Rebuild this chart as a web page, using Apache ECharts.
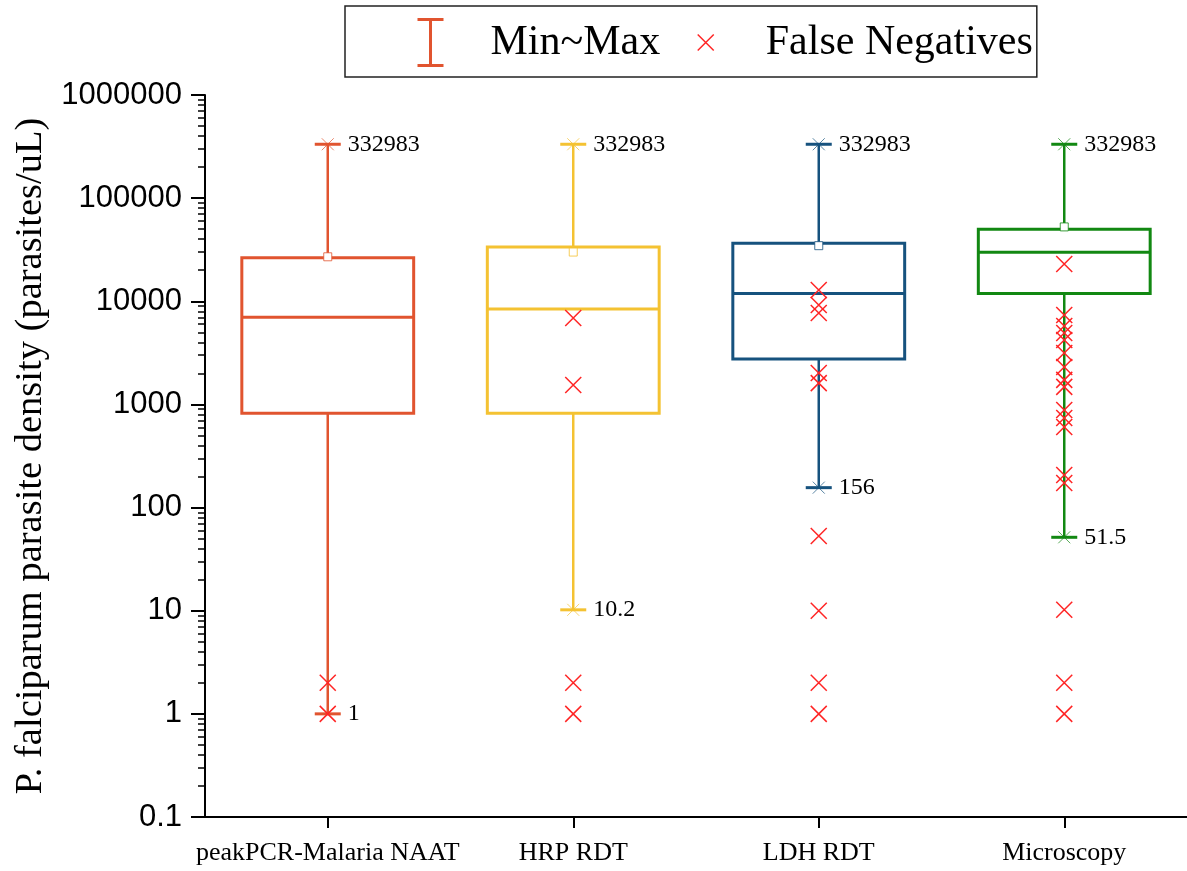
<!DOCTYPE html>
<html>
<head>
<meta charset="utf-8">
<title>P. falciparum parasite density by test</title>
<script src="https://cdn.jsdelivr.net/npm/echarts@6/dist/echarts.min.js"></script>
<style>
  html, body { margin: 0; padding: 0; background: #ffffff; }
  #chart { width: 1187px; height: 871px; }
</style>
</head>
<body>
<div id="chart"></div>
<script>
// Test methods along the x axis
const categories = ['peakPCR-Malaria NAAT', 'HRP RDT', 'LDH RDT', 'Microscopy'];

// Box statistics per test (parasites/uL)
const minValues    = [1, 10.2, 156, 51.5];
const q1Values     = [820, 820, 2750, 11900];
const medianValues = [7000, 8400, 11900, 29900];
const q3Values     = [26500, 33600, 36500, 49900];
const maxValues    = [332983, 332983, 332983, 332983];
const meanValues   = [27000, 30000, 34600, 52600];

// Parasite densities of the false-negative samples for each test
const falseNegPCR  = [1, 2];
const falseNegHRP  = [1, 2, 1540, 6890];
const falseNegLDH  = [1, 2, 10, 53, 1610, 2020, 7700, 9200, 12880];
const falseNegMicro = [1, 2, 10.2, 173, 207, 604, 739, 883, 1480, 1730, 2310,
                       3150, 4220, 4930, 5760, 7360, 23000];

// Y axis tick labels
const yTickLabels = ['0.1', '1', '10', '100', '1000', '10000', '100000', '1000000'];

const boxColors = ['#E1542F', '#F4C232', '#16527E', '#128812'];
const crossColor = '#FF2424';
const serif = '"Liberation Serif", "Times New Roman", serif';
const sans = '"Liberation Sans", Arial, sans-serif';

const boxData = categories.map((c, i) => [
  i, minValues[i], q1Values[i], medianValues[i], q3Values[i], maxValues[i], meanValues[i]
]);

const falseNegGroups = [falseNegPCR, falseNegHRP, falseNegLDH, falseNegMicro];
const falseNegData = [];
falseNegGroups.forEach((vals, i) => vals.forEach(v => falseNegData.push([i, v])));

function fade(hex, a) {
  const n = parseInt(hex.slice(1), 16);
  return 'rgba(' + (n >> 16) + ',' + ((n >> 8) & 255) + ',' + (n & 255) + ',' + a + ')';
}

function renderBox(params, api) {
  const i = api.value(0);
  const color = boxColors[i];
  const xc = api.coord([i, 1])[0];
  const bw = api.size([1, 1])[0] * 0.7;
  const yMin = api.coord([i, api.value(1)])[1];
  const yQ1 = api.coord([i, api.value(2)])[1];
  const yMed = api.coord([i, api.value(3)])[1];
  const yQ3 = api.coord([i, api.value(4)])[1];
  const yMax = api.coord([i, api.value(5)])[1];
  const yMean = api.coord([i, api.value(6)])[1];
  const capHalf = 13;
  const starHalf = 6;
  const line = (x1, y1, x2, y2, w, c) => ({
    type: 'line',
    shape: { x1, y1, x2, y2 },
    style: { stroke: c || color, lineWidth: w }
  });
  const children = [
    line(xc, yQ3, xc, yMax, 2.5),
    line(xc, yMin, xc, yQ1, 2.5),
    {
      type: 'rect',
      shape: { x: xc - bw / 2, y: yQ3, width: bw, height: yQ1 - yQ3 },
      style: { fill: 'none', stroke: color, lineWidth: 3 }
    },
    line(xc - bw / 2, yMed, xc + bw / 2, yMed, 3),
    line(xc - capHalf, yMax, xc + capHalf, yMax, 3),
    line(xc - capHalf, yMin, xc + capHalf, yMin, 3),
    line(xc - starHalf, yMax - starHalf, xc + starHalf, yMax + starHalf, 1, fade(color, 0.7)),
    line(xc - starHalf, yMax + starHalf, xc + starHalf, yMax - starHalf, 1, fade(color, 0.7)),
    line(xc - starHalf, yMin - starHalf, xc + starHalf, yMin + starHalf, 1, fade(color, 0.7)),
    line(xc - starHalf, yMin + starHalf, xc + starHalf, yMin - starHalf, 1, fade(color, 0.7)),
    {
      type: 'rect',
      shape: { x: xc - 4, y: yMean - 4, width: 8, height: 8 },
      style: { fill: '#ffffff', stroke: fade(color, 0.8), lineWidth: 1 }
    },
    {
      type: 'text',
      x: xc + 20, y: yMax,
      style: {
        text: String(api.value(5)), fill: '#000', font: '24px ' + serif,
        textAlign: 'left', textVerticalAlign: 'middle'
      }
    },
    {
      type: 'text',
      x: xc + 20, y: yMin,
      style: {
        text: String(api.value(1)), fill: '#000', font: '24px ' + serif,
        textAlign: 'left', textVerticalAlign: 'middle'
      }
    }
  ];
  return { type: 'group', children };
}

const chart = echarts.init(document.getElementById('chart'), null, { renderer: 'canvas' });

chart.setOption({
  backgroundColor: '#ffffff',
  animation: false,
  legend: {
    left: 345,
    top: 6,
    orient: 'horizontal',
    padding: [11, 4, 9, 70],
    itemGap: 35,
    itemWidth: 30,
    itemHeight: 46,
    borderColor: '#222',
    borderWidth: 1.5,
    selectedMode: false,
    textStyle: {
      fontFamily: serif, fontSize: 42, color: '#000',
      padding: [0, 0, 0, 40]
    },
    data: [
      {
        name: 'Min~Max',
        icon: 'path://M0,0H26M13,0V46M0,46H26',
        itemStyle: { color: 'none', borderColor: boxColors[0], borderWidth: 3 }
      },
      {
        name: 'False Negatives',
        icon: 'path://M8,-23L8,-23M0,-8L16,8M16,-8L0,8M8,23L8,23',
        itemStyle: { color: 'none', borderColor: crossColor, borderWidth: 1.5 }
      }
    ]
  },
  grid: { left: 205, right: 0, top: 95, bottom: 54, containLabel: false },
  xAxis: {
    type: 'category',
    data: categories,
    boundaryGap: true,
    axisLine: { show: true, lineStyle: { color: '#000', width: 2 } },
    axisTick: { show: true, interval: 0, alignWithLabel: true, length: 11, lineStyle: { color: '#000', width: 2 } },
    axisLabel: { interval: 0, color: '#000', fontFamily: serif, fontSize: 26, margin: 23 },
    splitLine: { show: false }
  },
  yAxis: {
    type: 'log',
    logBase: 10,
    min: 0.1,
    max: 1000000,
    name: 'P. falciparum parasite density (parasites/uL)',
    nameLocation: 'middle',
    nameGap: 150,
    nameTextStyle: { fontFamily: serif, fontSize: 38.5, color: '#000' },
    axisLine: { show: true, lineStyle: { color: '#000', width: 2 } },
    axisTick: { show: true, inside: false, length: 14, lineStyle: { color: '#000', width: 2 } },
    minorTick: { show: true, splitNumber: 9, length: 7, lineStyle: { color: '#000', width: 1.5 } },
    axisLabel: {
      color: '#000', fontFamily: sans, fontSize: 31, margin: 23,
      formatter: function (v) {
        const idx = Math.round(Math.log10(v)) + 1;
        return yTickLabels[idx] != null ? yTickLabels[idx] : String(v);
      }
    },
    splitLine: { show: false },
    minorSplitLine: { show: false }
  },
  series: [
    {
      name: 'Min~Max',
      type: 'custom',
      renderItem: renderBox,
      encode: { x: 0, y: [1, 2, 3, 4, 5, 6] },
      data: boxData,
      itemStyle: { color: boxColors[0] },
      z: 2
    },
    {
      name: 'False Negatives',
      type: 'scatter',
      data: falseNegData,
      symbol: 'path://M0,0L10,10M10,0L0,10',
      symbolSize: 16,
      itemStyle: { color: 'none', borderColor: crossColor, borderWidth: 1.5, opacity: 1 },
      emphasis: { disabled: true },
      z: 3
    }
  ]
});
</script>
</body>
</html>
